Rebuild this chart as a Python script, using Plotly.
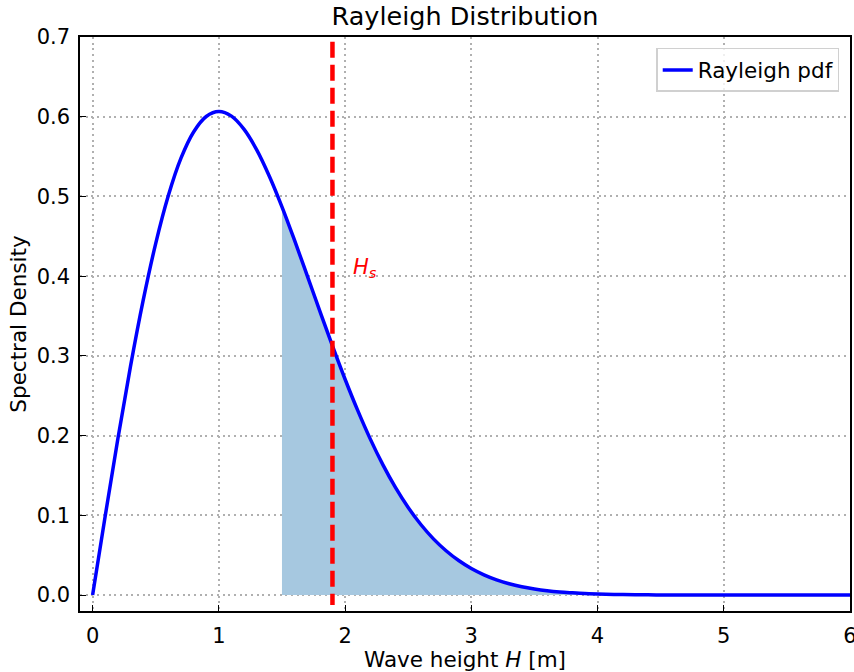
import plotly.graph_objects as go

# Wave heights [m] and Rayleigh pdf values
H = [0.0, 0.1, 0.2, 0.3, 0.4, 0.5, 0.6, 0.7, 0.8, 0.9,
     1.0, 1.1, 1.2, 1.3, 1.4, 1.5, 1.6, 1.7, 1.8, 1.9,
     2.0, 2.1, 2.2, 2.3, 2.4, 2.5, 2.6, 2.7, 2.8, 2.9,
     3.0, 3.1, 3.2, 3.3, 3.4, 3.5, 3.6, 3.7, 3.8, 3.9,
     4.0, 4.2, 4.4, 4.6, 5.0, 5.5, 6.0]
pdf = [0.0, 0.0995, 0.1960, 0.2868, 0.3692, 0.4412, 0.5012, 0.5480, 0.5809, 0.6003,
       0.6065, 0.6007, 0.5841, 0.5585, 0.5254, 0.4870, 0.4448, 0.4007, 0.3562, 0.3125,
       0.2707, 0.2316, 0.1956, 0.1633, 0.1347, 0.1098, 0.0885, 0.0705, 0.0556, 0.0433,
       0.0333, 0.0254, 0.0191, 0.0142, 0.0105, 0.0077, 0.0055, 0.0039, 0.0028, 0.0019,
       0.0013, 0.0006, 0.0003, 0.0001, 0.0, 0.0, 0.0]
fill_start = 1.5
Hs = 1.9
Hs_line_y = [0.694, -0.0125]
x_ticks = [0, 1, 2, 3, 4, 5, 6]
y_ticks = [0.0, 0.1, 0.2, 0.3, 0.4, 0.5, 0.6, 0.7]

FONT = "DejaVu Sans"

fx = [h for h in H if h >= fill_start]
fy = [p for h, p in zip(H, pdf) if h >= fill_start]

fig = go.Figure()
fig.add_trace(go.Scatter(x=fx, y=fy, fill="tozeroy", mode="none",
                         fillcolor="rgba(166,200,224,1)", line_shape="spline",
                         showlegend=False, hoverinfo="skip"))
fig.add_trace(go.Scatter(x=H, y=pdf, mode="lines", name="Rayleigh pdf",
                         line=dict(color="#0000ff", width=3.5, shape="spline")))
fig.add_trace(go.Scatter(x=[Hs, Hs], y=Hs_line_y, mode="lines", showlegend=False,
                         line=dict(color="#ff0000", width=4.5, dash="16px,7px")))
fig.add_annotation(x=2.16, y=0.41, text="<i>H<sub>s</sub></i>", showarrow=False,
                   xanchor="center", yanchor="middle",
                   font=dict(family=FONT, size=21, color="#ff0000"))

axis_common = dict(showline=True, linecolor="black", linewidth=1.5, mirror=True,
                   ticks="inside", ticklen=6, tickwidth=1.2, tickcolor="black",
                   showgrid=True, gridcolor="#b0b0b0", griddash="2px,3.7px", gridwidth=1.5,
                   zeroline=False, automargin=False, ticklabeloverflow="allow",
                   tickfont=dict(family=FONT, size=21, color="black"))

fig.update_layout(
    width=854, height=672,
    margin=dict(l=80, r=4, t=37, b=61),
    plot_bgcolor="white", paper_bgcolor="white",
    title=dict(text="Rayleigh Distribution", xref="paper", x=0.5, xanchor="center",
               y=0.976, yanchor="middle",
               font=dict(family=FONT, size=25.5, color="black")),
    xaxis=dict(range=[-0.1, 6.0], tickvals=x_ticks, ticklabelstandoff=5,
               title=dict(text="Wave height <i>H</i> [m]", standoff=0,
                          font=dict(family=FONT, size=21.5, color="black")),
               **axis_common),
    yaxis=dict(range=[-0.02, 0.7], tickvals=y_ticks, ticklabelstandoff=4,
               tickformat=".1f",
               title=dict(text="Spectral Density", standoff=4,
                          font=dict(family=FONT, size=21.5, color="black")),
               **axis_common),
    legend=dict(x=0.986, y=0.981, xanchor="right", yanchor="top",
                bgcolor="rgba(255,255,255,0.8)", bordercolor="#d0d0d0", borderwidth=1.5,
                font=dict(family=FONT, size=21.5, color="black")),
)

fig.write_html("out.html", config={"displayModeBar": False},
               post_script="document.body.style.margin='0';document.body.style.overflow='hidden';")
